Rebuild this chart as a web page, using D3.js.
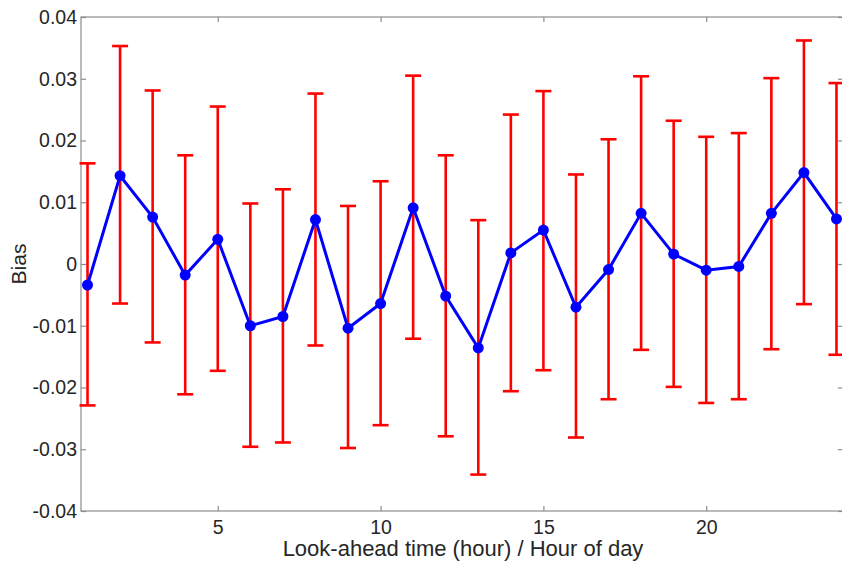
<!DOCTYPE html>
<html>
  <head>
    <meta charset="UTF-8">
    <title>Bias per look-ahead hour</title>
    <style>
      body { margin: 0; background: #fff; }
      svg { display: block; font-family: "Liberation Sans", Arial, sans-serif; }
    </style>
  </head>
  <body>
    <div id="chart"></div>
    <script src="https://d3js.org/d3.v7.min.js"></script>
    <script>

// values
var hours = [1, 2, 3, 4, 5, 6, 7, 8, 9, 10, 11, 12, 13, 14, 15, 16, 17, 18, 19, 20, 21, 22, 23, 24];
var bias = [-0.0034, 0.0143, 0.0076, -0.0018, 0.0040, -0.0100, -0.0085, 0.0072, -0.0104, -0.0064, 0.0091, -0.0052,
            -0.0136, 0.0018, 0.0055, -0.0070, -0.0009, 0.0082, 0.0016, -0.0010, -0.0004, 0.0082, 0.0148, 0.0073];
var upper = [0.0163, 0.0353, 0.0281, 0.0176, 0.0255, 0.0098, 0.0121, 0.0276, 0.0094, 0.0134, 0.0305, 0.0176,
             0.0071, 0.0242, 0.0280, 0.0145, 0.0202, 0.0304, 0.0232, 0.0206, 0.0212, 0.0301, 0.0362, 0.0293];
var lower = [-0.0229, -0.0064, -0.0127, -0.0211, -0.0173, -0.0296, -0.0289, -0.0132, -0.0298, -0.0261, -0.0121, -0.0279,
             -0.0341, -0.0206, -0.0172, -0.0281, -0.0219, -0.0139, -0.0199, -0.0225, -0.0219, -0.0138, -0.0065, -0.0147];
var yTicks = [-0.04, -0.03, -0.02, -0.01, 0, 0.01, 0.02, 0.03, 0.04];
var xTicks = [5, 10, 15, 20];

var W = 842, H = 561;
var plot = {left: 81, right: 843, top: 17, bottom: 511};

var x = d3.scaleLinear().domain([0.8, 24.2]).range([plot.left, plot.right]);
var y = d3.scaleLinear().domain([-0.04, 0.04]).range([plot.bottom, plot.top]);

var svg = d3.select("#chart").append("svg")
    .attr("width", W)
    .attr("height", H);

var axisColor = "#8c8c8c", textColor = "#262626";

// box
svg.append("rect")
    .attr("x", plot.left).attr("y", plot.top)
    .attr("width", plot.right - plot.left).attr("height", plot.bottom - plot.top)
    .attr("fill", "none").attr("stroke", axisColor).attr("stroke-width", 1.2);

// axes (ticks inward)
var yAxis = d3.axisLeft(y).tickValues(yTicks).tickSize(-5).tickPadding(4)
    .tickFormat(function(d){ return d === 0 ? "0" : d3.format(".2f")(d).replace("\u2212", "-"); });
var yRight = d3.axisRight(y).tickValues(yTicks).tickSize(-5).tickFormat("");
var xAxis = d3.axisBottom(x).tickValues(xTicks).tickSize(-5).tickPadding(9);
var xTop = d3.axisTop(x).tickValues(xTicks).tickSize(-5).tickFormat("");

function style(g){
  g.select(".domain").remove();
  g.selectAll("line").attr("stroke", axisColor).attr("stroke-width", 1.2);
  g.selectAll("text").attr("fill", textColor).style("font-size", "19.5px");
}

svg.append("g").attr("transform", "translate(" + plot.left + ",0)").call(yAxis).call(style);
svg.append("g").attr("transform", "translate(" + plot.right + ",0)").call(yRight).call(style);
svg.append("g").attr("transform", "translate(0," + plot.bottom + ")").call(xAxis).call(style);
svg.append("g").attr("transform", "translate(0," + plot.top + ")").call(xTop).call(style);

// labels
svg.append("text")
    .attr("x", 463).attr("y", 556)
    .attr("text-anchor", "middle")
    .attr("fill", textColor)
    .style("font-size", "22px")
    .text("Look-ahead time (hour) / Hour of day");

svg.append("text")
    .attr("transform", "translate(26," + ((plot.top + plot.bottom) / 2) + ") rotate(-90)")
    .attr("text-anchor", "middle")
    .attr("fill", textColor)
    .style("font-size", "21px")
    .text("Bias");

// error bars
var data = hours.map(function(h, i){ return {h: h, v: bias[i], hi: upper[i], lo: lower[i]}; });
var cap = 8;

var eb = svg.append("g").attr("stroke", "#ff0000").attr("stroke-width", 2.6).attr("fill", "none");
eb.selectAll(".stem").data(data).enter().append("line")
    .attr("x1", function(d){ return x(d.h); }).attr("x2", function(d){ return x(d.h); })
    .attr("y1", function(d){ return y(d.hi); }).attr("y2", function(d){ return y(d.lo); });
eb.selectAll(".capHi").data(data).enter().append("line")
    .attr("x1", function(d){ return x(d.h) - cap; }).attr("x2", function(d){ return x(d.h) + cap; })
    .attr("y1", function(d){ return y(d.hi); }).attr("y2", function(d){ return y(d.hi); });
eb.selectAll(".capLo").data(data).enter().append("line")
    .attr("x1", function(d){ return x(d.h) - cap; }).attr("x2", function(d){ return x(d.h) + cap; })
    .attr("y1", function(d){ return y(d.lo); }).attr("y2", function(d){ return y(d.lo); });

// mean line with markers
var line = d3.line().x(function(d){ return x(d.h); }).y(function(d){ return y(d.v); });
svg.append("path").datum(data)
    .attr("d", line)
    .attr("fill", "none")
    .attr("stroke", "#0000ff")
    .attr("stroke-width", 3);

svg.selectAll(".pt").data(data).enter().append("circle")
    .attr("cx", function(d){ return x(d.h); })
    .attr("cy", function(d){ return y(d.v); })
    .attr("r", 5.5)
    .attr("fill", "#0000ff");

    </script>
  </body>
</html>
